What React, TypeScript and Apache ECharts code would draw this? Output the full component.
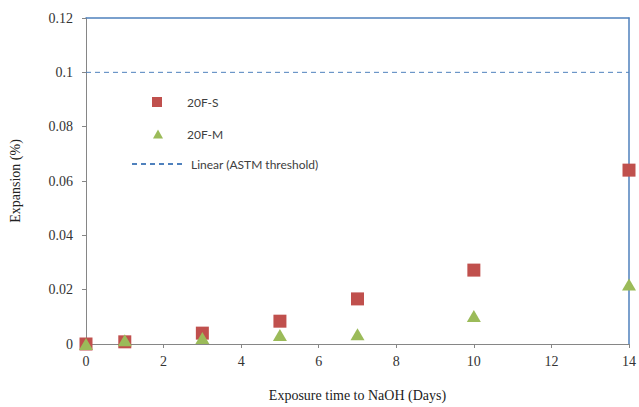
import React, { useEffect, useRef } from "react";
import * as echarts from "echarts";

// Exposure time (days) and measured expansion (%)
const days = [0, 1, 3, 5, 7, 10, 14];
const expansionS = [0, 0.0008, 0.004, 0.0084, 0.0166, 0.0272, 0.064];
const expansionM = [0, 0.0014, 0.0022, 0.0033, 0.0036, 0.0103, 0.0219];

// ASTM threshold line
const thresholdX = [0, 14];
const thresholdY = [0.1, 0.1];

const serif = "'Liberation Serif', 'Times New Roman', serif";
const sans = "Lato, 'Noto Sans', sans-serif";
const axisGray = "#868686";
const frameBlue = "#4F81BD";

export default function App() {
  const ref = useRef<HTMLDivElement>(null);

  useEffect(() => {
    if (!ref.current) return;
    const chart = echarts.init(ref.current, undefined, { renderer: "svg" });

    const pairs = (xs: number[], ys: number[]) => xs.map((x, i) => [x, ys[i]]);

    chart.setOption({
      animation: false,
      backgroundColor: "#ffffff",
      grid: { left: 84, right: 8, top: 18, bottom: 59 },
      legend: [
        {
          data: [{ name: "20F-S", icon: "rect" }],
          left: 147,
          top: 91,
          itemWidth: 10,
          itemHeight: 10,
          textStyle: { fontFamily: sans, fontSize: 12, color: "#404040", padding: [0, 0, 0, 20] },
        },
        {
          data: [{ name: "20F-M", icon: "triangle" }],
          left: 148,
          top: 123,
          itemWidth: 10,
          itemHeight: 9,
          textStyle: { fontFamily: sans, fontSize: 12, color: "#404040", padding: [0, 0, 0, 19] },
        },
        {
          data: [{ name: "Linear (ASTM threshold)", itemStyle: { opacity: 0 } }],
          left: 126,
          top: 153,
          itemWidth: 50,
          itemHeight: 12,
          textStyle: { fontFamily: sans, fontSize: 12, color: "#404040", padding: [0, 0, 0, 4] },
        },
      ],
      xAxis: [
        {
          type: "value",
          min: 0,
          max: 14,
          interval: 2,
          name: "Exposure time to NaOH (Days)",
          nameLocation: "middle",
          nameGap: 44,
          nameTextStyle: { fontFamily: serif, fontSize: 14, color: "#222" },
          axisLine: { show: true, onZero: false, lineStyle: { color: axisGray, width: 1 } },
          axisTick: { show: true, length: 4, lineStyle: { color: axisGray } },
          axisLabel: { fontFamily: serif, fontSize: 14, color: "#333", margin: 10 },
          splitLine: { show: false },
        },
        {
          type: "value",
          position: "top",
          min: 0,
          max: 14,
          axisLine: { show: true, onZero: false, lineStyle: { color: frameBlue, width: 1.5 } },
          axisTick: { show: false },
          axisLabel: { show: false },
          splitLine: { show: false },
        },
      ],
      yAxis: [
        {
          type: "value",
          min: 0,
          max: 0.12,
          interval: 0.02,
          name: "Expansion (%)",
          nameLocation: "middle",
          nameGap: 64,
          nameTextStyle: { fontFamily: serif, fontSize: 14, color: "#222" },
          axisLine: { show: true, onZero: false, lineStyle: { color: axisGray, width: 1 } },
          axisTick: { show: true, length: 4, lineStyle: { color: axisGray } },
          axisLabel: { fontFamily: serif, fontSize: 14, color: "#333", margin: 13 },
          splitLine: { show: false },
        },
        {
          type: "value",
          position: "right",
          min: 0,
          max: 0.12,
          axisLine: { show: true, onZero: false, lineStyle: { color: frameBlue, width: 1.5 } },
          axisTick: { show: false },
          axisLabel: { show: false },
          splitLine: { show: false },
        },
      ],
      series: [
        {
          name: "Linear (ASTM threshold)",
          type: "line",
          data: pairs(thresholdX, thresholdY),
          showSymbol: false,
          symbol: "none",
          itemStyle: { color: frameBlue },
          lineStyle: { color: frameBlue, width: 1, type: [5, 4] },
          z: 1,
        },
        {
          name: "20F-S",
          type: "scatter",
          data: pairs(days, expansionS),
          symbol: "rect",
          symbolSize: 13,
          itemStyle: { color: "#C0504D", opacity: 1 },
          z: 3,
        },
        {
          name: "20F-M",
          type: "scatter",
          data: pairs(days, expansionM),
          symbol: "triangle",
          symbolSize: [14, 12],
          itemStyle: { color: "#9BBB59", opacity: 1 },
          z: 4,
        },
      ],
    });

    return () => chart.dispose();
  }, []);

  return <div ref={ref} style={{ width: 639, height: 407, position: "absolute", left: 0, top: 0 }} />;
}
